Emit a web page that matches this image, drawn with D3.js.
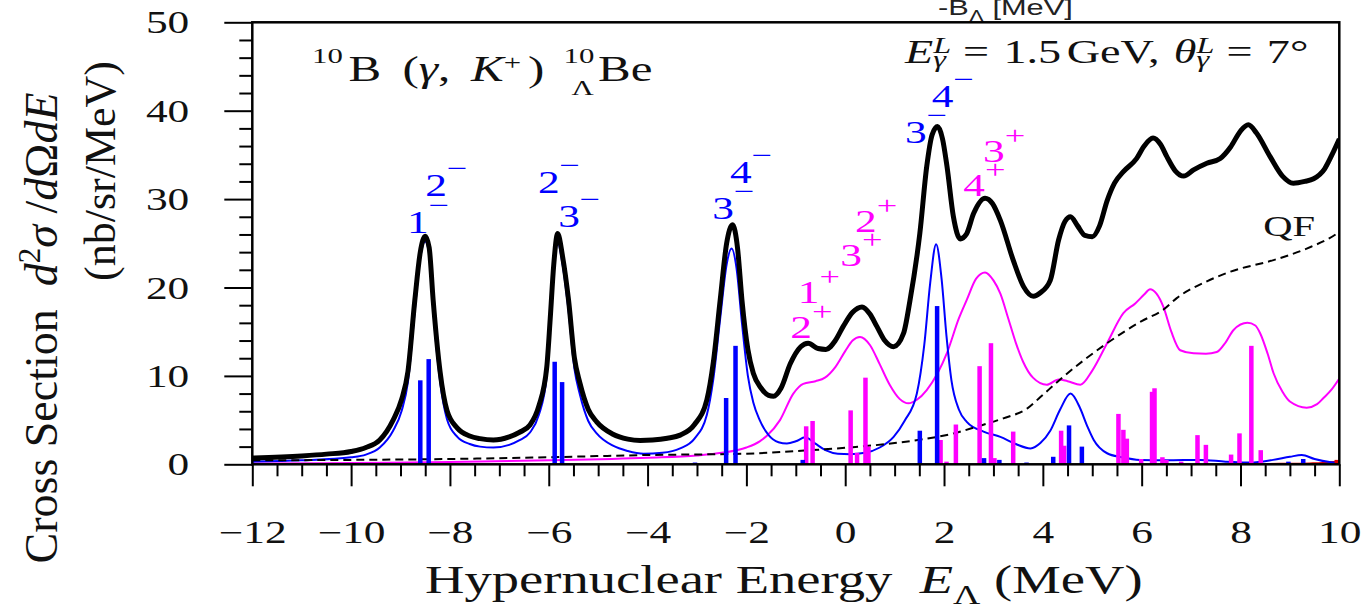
<!DOCTYPE html>
<html>
<head>
<meta charset="utf-8">
<script src="https://cdn.jsdelivr.net/npm/d3@7"></script>
<style>
  body { margin: 0; background: #fff; }
  svg { display: block; font-family: "Liberation Serif", "Times New Roman", serif; }
  text { white-space: pre; }
</style>
</head>
<body>
<svg width="1364" height="606"></svg>
<script>
// total spectrum (thick black)
const totalCurve = [
  [-12,0.7],[-11,0.95],[-10.5,1.15],[-10,1.45],[-9.7,1.9],[-9.42,2.75],[-9.15,5.0],[-8.98,7.3],[-8.85,10.5],
  [-8.71,18.6],[-8.6,24.0],[-8.5,25.8],[-8.42,24.5],[-8.34,18.6],[-8.2,10.5],[-8.06,6.1],[-7.85,4.1],[-7.6,3.2],
  [-7.39,2.9],[-7.12,2.75],[-6.8,3.1],[-6.6,3.6],[-6.38,4.45],[-6.2,6.6],[-6.04,11.0],[-5.97,16.5],[-5.9,22.5],
  [-5.82,26.1],[-5.72,23.5],[-5.6,18.6],[-5.48,12.0],[-5.37,9.2],[-5.2,6.2],[-5.03,4.8],[-4.7,3.4],[-4.4,2.85],
  [-4.15,2.7],[-3.9,2.75],[-3.6,2.95],[-3.34,3.3],[-3.05,4.5],[-2.8,7.3],[-2.67,11.5],[-2.53,18.6],[-2.4,25.0],
  [-2.28,27.1],[-2.18,24.5],[-2.09,18.6],[-1.97,13.0],[-1.86,10.3],[-1.7,8.6],[-1.55,7.8],[-1.45,7.7],[-1.3,8.6],
  [-1.11,11.4],[-0.9,13.3],[-0.75,13.7],[-0.55,13.1],[-0.39,13.0],[-0.2,14.0],[-0.04,15.6],[0.15,17.2],[0.34,17.8],
  [0.5,17.0],[0.64,15.6],[0.8,14.0],[0.98,13.3],[1.18,14.8],[1.31,18.5],[1.51,26.1],[1.65,33.7],[1.76,37.3],
  [1.87,38.2],[1.97,36.8],[2.06,33.7],[2.19,28.0],[2.33,25.5],[2.45,26.0],[2.6,28.4],[2.83,30.1],[2.98,29.5],
  [3.14,27.6],[3.4,23.1],[3.61,20.1],[3.81,19.0],[3.95,19.4],[4.15,20.8],[4.32,25.4],[4.45,27.5],[4.56,28.0],
  [4.7,27.0],[4.85,25.9],[5.0,25.75],[5.15,27.0],[5.3,29.8],[5.45,31.8],[5.63,33.1],[5.9,34.6],[6.05,36.0],
  [6.23,36.9],[6.38,36.2],[6.51,34.8],[6.68,33.2],[6.85,32.6],[7.05,33.3],[7.32,34.05],[7.59,34.6],[7.8,35.9],
  [8.0,37.7],[8.16,38.4],[8.32,37.5],[8.6,34.8],[8.85,32.6],[9.07,31.8],[9.3,32.0],[9.48,32.3],[9.7,33.4],
  [9.85,35.0],[10,36.8]
];

// negative parity states (blue)
const blueCurve = [
  [-12,0.3],[-11,0.45],[-10,0.8],[-9.7,1.1],[-9.42,1.9],[-9.15,3.8],[-8.98,6.0],[-8.85,9.3],[-8.71,17.5],
  [-8.6,23.4],[-8.5,25.2],[-8.42,23.8],[-8.34,17.6],[-8.2,9.4],[-8.06,5.1],[-7.85,3.1],[-7.6,2.3],[-7.39,2.0],
  [-7.12,1.9],[-6.8,2.2],[-6.6,2.7],[-6.38,3.6],[-6.2,5.6],[-6.04,10.0],[-5.97,15.6],[-5.9,21.8],[-5.82,25.1],
  [-5.72,22.6],[-5.6,17.4],[-5.48,10.8],[-5.37,7.9],[-5.2,4.9],[-5.03,3.5],[-4.7,2.1],[-4.4,1.5],[-4.08,1.2],
  [-3.7,1.3],[-3.34,1.8],[-3.05,2.9],[-2.8,5.6],[-2.67,9.6],[-2.53,16.5],[-2.4,22.6],[-2.3,24.4],[-2.2,22.2],
  [-2.09,16.0],[-1.97,10.0],[-1.86,7.0],[-1.73,5.0],[-1.55,3.3],[-1.35,2.5],[-1.18,2.35],[-1.0,2.6],[-0.81,3.05],
  [-0.62,2.4],[-0.4,1.6],[-0.15,1.2],[0.1,1.15],[0.4,1.3],[0.7,1.9],[0.98,3.1],[1.2,4.9],[1.45,8.0],[1.6,13.5],
  [1.72,20.5],[1.84,24.9],[1.95,21.0],[2.05,14.5],[2.15,9.5],[2.3,6.2],[2.46,4.8],[2.8,3.7],[3.14,3.1],[3.45,2.3],
  [3.75,1.8],[3.95,2.4],[4.15,3.8],[4.35,6.2],[4.56,8.0],[4.75,6.4],[4.9,4.3],[5.03,2.75],[5.3,1.25],[5.6,0.8],
  [5.97,0.5],[6.5,0.45],[7.19,0.5],[7.7,0.3],[8.2,0.2],[8.66,0.5],[9.0,0.85],[9.24,1.05],[9.5,0.6],[9.8,0.25],[10,0.15]
];

// positive parity states (magenta)
const magentaCurve = [
  [-12,0.1],[-10,0.15],[-8,0.25],[-6,0.45],[-4,0.75],[-3,1.0],[-2.5,1.3],[-2.0,1.9],[-1.73,2.6],[-1.59,3.2],
  [-1.32,5.0],[-1.05,8.0],[-0.85,9.1],[-0.6,9.4],[-0.41,9.8],[-0.2,11.0],[0.0,12.8],[0.15,14.0],[0.3,14.4],
  [0.5,13.5],[0.7,11.3],[0.9,9.0],[1.1,7.4],[1.28,6.9],[1.45,7.3],[1.65,8.4],[2.06,12.6],[2.3,16.5],[2.46,18.6],
  [2.65,21.0],[2.83,21.7],[3.0,20.8],[3.14,19.3],[3.3,16.5],[3.45,13.8],[3.6,11.6],[3.8,9.8],[4.08,9.0],[4.32,9.6],
  [4.5,9.4],[4.76,9.0],[5.0,10.6],[5.3,13.7],[5.63,17.1],[5.87,18.2],[6.05,19.2],[6.17,19.8],[6.3,19.3],[6.44,17.8],
  [6.6,15.0],[6.78,12.9],[7.05,12.55],[7.3,12.5],[7.52,12.7],[7.7,13.8],[7.86,15.2],[8.14,16.0],[8.3,15.7],
  [8.4,14.8],[8.55,12.5],[8.67,10.3],[8.85,8.2],[9.0,7.1],[9.34,6.4],[9.55,6.8],[9.68,7.5],[9.85,8.5],[10,9.7]
];

// quasi-free background (dashed)
const qfCurve = [
  [-12,0.45],[-10,0.5],[-8,0.6],[-6,0.8],[-4,1.05],[-2,1.2],[-1,1.5],[0.3,2.0],[1.0,2.4],[1.65,2.9],[2.2,3.5],
  [2.66,4.25],[3.2,5.2],[3.68,6.3],[3.95,7.6],[4.35,9.6],[5.3,13.7],[6.0,16.2],[6.44,17.5],[6.71,18.8],[7.32,20.7],
  [7.8,21.8],[8.67,23.1],[9.34,24.4],[9.95,26.1],[10,26.3]
];

const redCurve = [[8,0],[8.8,0.05],[9.4,0.1],[9.8,0.2],[10,0.35]];

// state strengths (bars)
const blueBars = [
  [-8.6,9.5],[-8.43,11.9],[-5.88,11.6],[-5.73,9.3],[-3.04,0.2],[-2.41,7.5],[-2.22,13.4],[-0.86,0.5],[1.51,3.8],
  [1.86,17.9],[2.81,0.7],[3.12,0.5],[3.67,0.2],[4.21,0.85],[4.53,4.4],[4.79,2.0],[8.97,0.3],[9.27,0.6]
];
const magentaBars = [
  [-0.79,4.3],[-0.66,4.9],[0.11,6.1],[0.24,1.3],[0.41,9.8],[0.47,2.0],[1.93,2.75],[2.05,0.3],[2.24,4.5],
  [2.72,11.1],[2.95,13.7],[3.02,0.7],[3.4,3.7],[4.37,3.8],[4.43,2.1],[5.53,5.7],[5.63,3.9],[5.7,2.9],[5.99,0.6],
  [6.21,8.2],[6.26,8.6],[6.42,0.8],[6.5,0.5],[6.8,0.3],[7.13,3.3],[7.3,2.2],[7.81,1.1],[7.98,3.5],[8.22,13.4],[8.41,1.6]
];
const redBars = [[9.95,0.5]];

// spin-parity labels [energy, height, J]
const negLabels = [[-8.87,26.2,'1'],[-8.5,30.3,'2'],[-6.22,30.7,'2'],[-5.81,26.8,'3'],[-2.69,27.8,'3'],[-2.33,31.8,'4'],[1.21,36.3,'3'],[1.75,40.45,'4']];
const posLabels = [[-1.11,14.3,'2'],[-0.96,18.3,'1'],[-0.1,22.4,'3'],[0.2,26.3,'2'],[2.39,30.3,'4'],[2.79,34.2,'3']];

const xMajorTicks = d3.range(-12, 10.01, 2);
const xMinorTicks = d3.range(-12, 10.01, 0.5).filter(v => v % 2 !== 0);
const yMajorTicks = d3.range(0, 50.01, 10);
const yMinorTicks = d3.range(0, 50.01, 2).filter(v => v % 10 !== 0);

const svg = d3.select('svg');
const width = parseInt(svg.attr('width'));
const height = parseInt(svg.attr('height'));
const margin = { top: 22.3, right: 24.7, bottom: 141.7, left: 252.3 };
const innerWidth = width - margin.left - margin.right;
const innerHeight = height - margin.top - margin.bottom;
const SX = 1.4; // the picture's text is stretched sideways

const xScale = d3.scaleLinear().domain([-12, 10]).range([0, innerWidth]);
const yScale = d3.scaleLinear().domain([0, 50]).range([innerHeight, 0]);

const g = svg.append('g').attr('transform', `translate(${margin.left},${margin.top})`);

g.append('clipPath').attr('id', 'plot-clip')
  .append('rect').attr('width', innerWidth).attr('height', innerHeight);

// leftover label above the frame
const bl = g.append('text')
  .attr('transform', `translate(${xScale(1.88)},${yScale(50.83)}) scale(${SX},1)`)
  .attr('fill', '#222')
  .style('font-family', '"Liberation Sans", Arial, sans-serif')
  .style('font-size', '22px');
bl.append('tspan').text('-B');
bl.append('tspan').attr('dy', 7).style('font-size', '16px').text('Λ');
bl.append('tspan').attr('dy', -7).text(' [MeV]');

const plot = g.append('g').attr('clip-path', 'url(#plot-clip)');

const line = d3.line()
  .x(d => xScale(d[0]))
  .y(d => yScale(d[1]))
  .curve(d3.curveMonotoneX);

plot.append('path').datum(redCurve).attr('d', line)
  .attr('fill', 'none').attr('stroke', '#e00000').attr('stroke-width', 2);
plot.append('path').datum(magentaCurve).attr('d', line)
  .attr('fill', 'none').attr('stroke', '#ff00ff').attr('stroke-width', 2);
plot.append('path').datum(blueCurve).attr('d', line)
  .attr('fill', 'none').attr('stroke', '#0000ff').attr('stroke-width', 2);
plot.append('path').datum(qfCurve).attr('d', line)
  .attr('fill', 'none').attr('stroke', '#000').attr('stroke-width', 2)
  .attr('stroke-dasharray', '8,5');

const barW = 4.5;
const drawBars = (data, color) => {
  plot.append('g').selectAll('rect').data(data)
    .enter().append('rect')
      .attr('x', d => xScale(d[0]) - barW / 2)
      .attr('y', d => yScale(d[1]))
      .attr('width', barW)
      .attr('height', d => yScale(0) - yScale(d[1]))
      .attr('fill', color);
};
drawBars(magentaBars, '#ff00ff');
drawBars(blueBars, '#0000ff');
drawBars(redBars, '#e00000');

plot.append('path').datum(totalCurve).attr('d', line)
  .attr('fill', 'none').attr('stroke', '#000').attr('stroke-width', 5)
  .attr('stroke-linejoin', 'round');

// axes
const styleAxis = (sel) => {
  sel.attr('font-size', null).attr('font-family', null);
  sel.select('.domain').remove();
  sel.selectAll('line').attr('stroke', '#000').attr('stroke-width', 2);
};

const yMinorG = g.append('g').call(d3.axisLeft(yScale).tickValues(yMinorTicks).tickSize(13).tickFormat(''));
styleAxis(yMinorG);
const yAxisG = g.append('g').call(d3.axisLeft(yScale).tickValues(yMajorTicks).tickSize(28).tickFormat(d3.format('d')));
styleAxis(yAxisG);
yAxisG.selectAll('text')
  .attr('x', -63 / SX).attr('dy', '0.34em')
  .attr('transform', `scale(${SX},1)`)
  .attr('fill', '#111')
  .style('font-size', '31px');

const xMinorG = g.append('g').attr('transform', `translate(0,${innerHeight})`)
  .call(d3.axisBottom(xScale).tickValues(xMinorTicks).tickSize(12).tickFormat(''));
styleAxis(xMinorG);
const xAxisG = g.append('g').attr('transform', `translate(0,${innerHeight})`)
  .call(d3.axisBottom(xScale).tickValues(xMajorTicks).tickSize(22).tickFormat(d3.format('d')));
styleAxis(xAxisG);
xAxisG.selectAll('text')
  .attr('y', 79).attr('dy', 0)
  .attr('transform', `scale(${SX},1)`)
  .attr('fill', '#111')
  .style('font-size', '31px');

// frame
g.append('rect')
  .attr('width', innerWidth).attr('height', innerHeight)
  .attr('fill', 'none').attr('stroke', '#000').attr('stroke-width', 2.5);

// spin-parity labels
const spinLabel = (d, sign, color, supDy) => {
  const t = g.append('text')
    .attr('transform', `translate(${xScale(d[0])},${yScale(d[1])}) scale(${SX},1)`)
    .attr('fill', color)
    .style('font-size', '31px');
  t.append('tspan').text(d[2]);
  t.append('tspan').attr('dy', supDy).style('font-size', '26px').text(sign);
};
negLabels.forEach(d => spinLabel(d, '\u2212', '#0000ff', -19));
posLabels.forEach(d => spinLabel(d, '+', '#ff00ff', -18));

// QF label
g.append('text')
  .attr('transform', `translate(${xScale(8.46)},${yScale(25.8)}) scale(${SX},1)`)
  .attr('fill', '#111')
  .style('font-size', '29px')
  .text('QF');

// reaction title
const title = g.append('text')
  .attr('transform', `translate(${xScale(-10.79)},${yScale(43.4)}) scale(${SX},1)`)
  .attr('fill', '#111')
  .style('font-size', '35px');
title.append('tspan').attr('dy', -17.7).style('font-size', '22px').text('10');
title.append('tspan').attr('dx', 4).attr('dy', 17.7).text('B');
title.append('tspan').attr('dx', 6.5).text(' (');
title.append('tspan').style('font-style', 'italic').text('γ');
title.append('tspan').text(', ');
title.append('tspan').attr('dx', 6).style('font-style', 'italic').text('K');
title.append('tspan').attr('dy', -11).style('font-size', '22px').text('+');
title.append('tspan').attr('dx', 5).attr('dy', 11).text(') ');
title.append('tspan').attr('dx', 5).attr('dy', -17.7).style('font-size', '22px').text('10');
title.append('tspan').attr('dx', -16.4).attr('dy', 31.7).style('font-size', '22px').text('Λ');
title.append('tspan').attr('dx', 3).attr('dy', -14).text('Be');

// kinematics
const kin = g.append('text')
  .attr('transform', `translate(${xScale(1.21)},${yScale(45.4)}) scale(${SX},1)`)
  .attr('fill', '#111')
  .style('font-size', '33px');
const supSub = (t) => {
  t.append('tspan').attr('dy', -10).style('font-size', '23px').style('font-style', 'italic').text('L');
  t.append('tspan').attr('dx', -12.8).attr('dy', 14.2).style('font-size', '23px').style('font-style', 'italic').text('γ');
};
kin.append('tspan').style('font-style', 'italic').text('E');
supSub(kin);
kin.append('tspan').attr('dx', 4).attr('dy', -4.2).text(' = ');
kin.append('tspan').attr('dx', 2).text('1.5');
kin.append('tspan').attr('dx', 4).text('GeV, ');
kin.append('tspan').attr('dx', 2).style('font-style', 'italic').text('θ');
supSub(kin);
kin.append('tspan').attr('dx', 4).attr('dy', -4.2).text(' = ');
kin.append('tspan').attr('dx', 2).text('7°');

// axis titles
const xt = svg.append('text')
  .attr('transform', `translate(425,593) scale(${SX},1)`)
  .attr('fill', '#111')
  .style('font-size', '39px');
xt.append('tspan').text('Hypernuclear Energy  ');
xt.append('tspan').style('font-style', 'italic').text('E');
xt.append('tspan').attr('dy', 11).style('font-size', '27px').text('Λ');
xt.append('tspan').attr('dy', -11).text(' (MeV)');

const yt = svg.append('text')
  .attr('transform', 'translate(57,328) rotate(-90)')
  .attr('text-anchor', 'middle')
  .attr('fill', '#111')
  .style('font-size', '46px');
yt.append('tspan').text('Cross Section  ');
yt.append('tspan').style('font-style', 'italic').text('d');
yt.append('tspan').attr('dy', -17).style('font-size', '31px').text('2');
yt.append('tspan').attr('dy', 17).style('font-style', 'italic').text('σ');
yt.append('tspan').text(' /');
yt.append('tspan').style('font-style', 'italic').text('d');
yt.append('tspan').text('Ω');
yt.append('tspan').style('font-style', 'italic').text('dE');

svg.append('text')
  .attr('transform', 'translate(115,171) rotate(-90)')
  .attr('text-anchor', 'middle')
  .attr('fill', '#111')
  .style('font-size', '44px')
  .text('(nb/sr/MeV)');
</script>
</body>
</html>
